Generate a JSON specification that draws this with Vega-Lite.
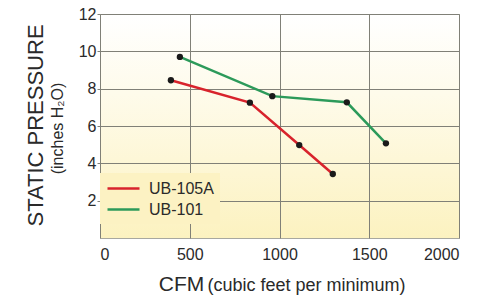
{
  "$schema": "https://vega.github.io/schema/vega-lite/v6.json",
  "autosize": {"type": "none"},
  "padding": {"left": 100, "top": 14, "right": 19, "bottom": 61},
  "width": 359,
  "height": 224,
  "background": "#ffffff",
  "config": {
    "font": "Liberation Sans",
    "view": {
      "stroke": "#a8a8a0", "strokeWidth": 1,
      "fill": {
        "gradient": "linear", "x1": 0, "y1": 0, "x2": 0, "y2": 1,
        "stops": [
          {"offset": 0, "color": "#ffffff"},
          {"offset": 0.35, "color": "#fefbeb"},
          {"offset": 1, "color": "#fcf2c0"}
        ]
      }
    },
    "axis": {"labelColor": "#2a2a2a", "titleColor": "#2a2a2a", "titleFontWeight": "normal", "labelFont": "Liberation Sans", "titleFont": "Liberation Sans"}
  },
  "data": {
    "values": [
      {"model": "UB-105A", "cfm": 395, "sp": 8.45},
      {"model": "UB-105A", "cfm": 835, "sp": 7.25},
      {"model": "UB-105A", "cfm": 1110, "sp": 4.98},
      {"model": "UB-105A", "cfm": 1297, "sp": 3.43},
      {"model": "UB-101", "cfm": 445, "sp": 9.7},
      {"model": "UB-101", "cfm": 960, "sp": 7.6},
      {"model": "UB-101", "cfm": 1375, "sp": 7.27},
      {"model": "UB-101", "cfm": 1593, "sp": 5.07}
    ]
  },
  "layer": [
    {
      "mark": {"type": "line", "strokeWidth": 2.5},
      "encoding": {
        "x": {
          "field": "cfm", "type": "quantitative",
          "scale": {"domain": [0, 2000], "nice": false},
          "axis": {
            "orient": "bottom", "values": [0, 500, 1000, 1500, 2000], "format": "d",
            "grid": true, "gridColor": "#808077", "gridWidth": 1,
            "ticks": false, "domain": false,
            "labelFontSize": 16, "labelPadding": 8,
            "title": "(cubic feet per minimum)", "titleFontSize": 18,
            "titleX": 206, "titleY": 52, "titleBaseline": "alphabetic"
          }
        },
        "y": {
          "field": "sp", "type": "quantitative",
          "scale": {"domain": [0, 12], "nice": false},
          "axis": {
            "orient": "left", "values": [2, 4, 6, 8, 10, 12],
            "grid": true, "gridColor": "#808077", "gridWidth": 1,
            "ticks": true, "tickSize": 3, "tickColor": "#808077", "domain": false,
            "labelFontSize": 16, "labelPadding": 1,
            "title": "(inches H₂O)", "titleFontSize": 16,
            "titleX": -38, "titleY": 114, "titleBaseline": "alphabetic"
          }
        },
        "color": {
          "field": "model", "type": "nominal",
          "scale": {"domain": ["UB-105A", "UB-101"], "range": ["#d8232c", "#2c9a5a"]},
          "legend": {
            "orient": "none", "legendX": 0, "legendY": 159,
            "title": null, "padding": 6, "rowPadding": 3,
            "fillColor": "#fcf2c3", "strokeColor": null,
            "symbolType": "M-2,0L2,0", "symbolSize": 256, "symbolStrokeWidth": 2.5,
            "symbolOffset": 8,
            "labelFontSize": 16, "labelColor": "#2a2a2a", "labelOffset": 16
          }
        }
      }
    },
    {
      "mark": {"type": "point", "filled": true, "color": "#1a1a1a", "size": 40, "opacity": 1},
      "encoding": {
        "x": {
          "field": "cfm", "type": "quantitative",
          "scale": {"domain": [0, 2000], "nice": false},
          "axis": {
            "orient": "bottom", "grid": false, "labels": false, "ticks": false, "domain": false,
            "title": "CFM", "titleFontSize": 21,
            "titleX": 81, "titleY": 52, "titleBaseline": "alphabetic"
          }
        },
        "y": {
          "field": "sp", "type": "quantitative",
          "scale": {"domain": [0, 12], "nice": false},
          "axis": {
            "orient": "left", "grid": false, "labels": false, "ticks": false, "domain": false,
            "title": "STATIC PRESSURE", "titleFontSize": 22,
            "titleX": -58, "titleY": 111, "titleBaseline": "alphabetic"
          }
        },
        "detail": {"field": "model"}
      }
    }
  ],
  "resolve": {"axis": {"x": "independent", "y": "independent"}}
}
